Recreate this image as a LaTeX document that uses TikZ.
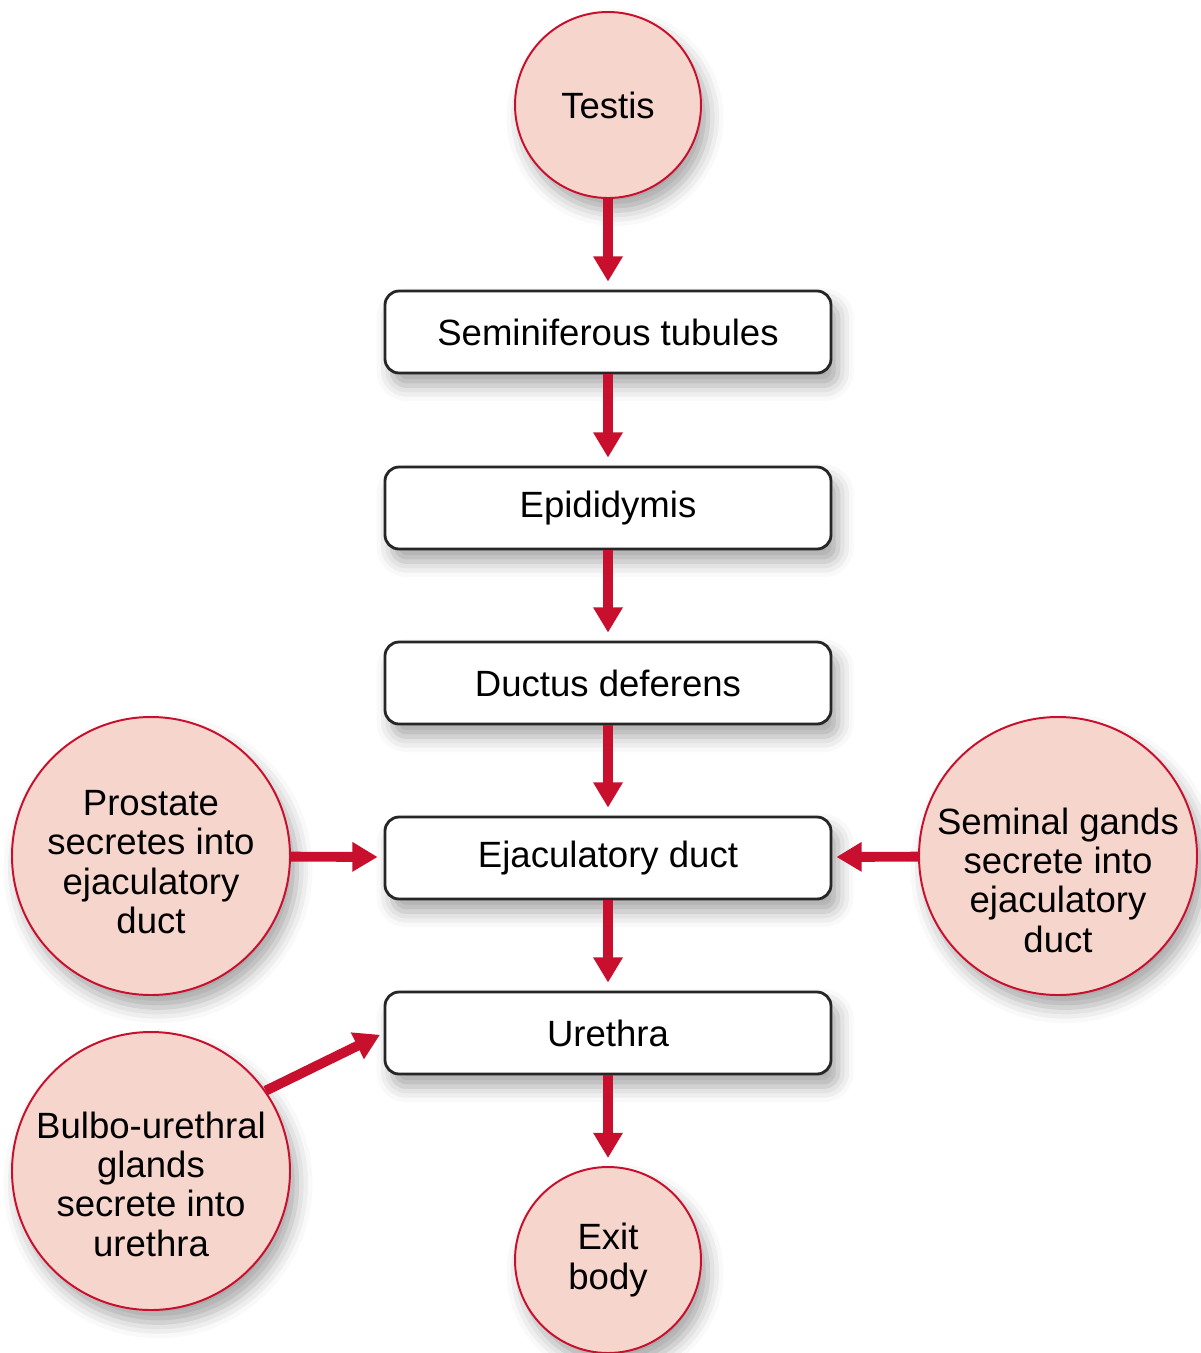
\documentclass[tikz,border=0pt]{standalone}
\usepackage{fontspec}
\setmainfont{Liberation Sans}
\usetikzlibrary{arrows.meta, shadows.blur}
\definecolor{cred}{HTML}{C8102E}
\definecolor{cpink}{HTML}{F6D6CC}
\definecolor{cdark}{HTML}{262626}
\tikzset{
  every picture/.style={font=\fontsize{26}{28}\selectfont},
  dropshadow/.style={blur shadow={shadow xshift=5pt, shadow yshift=-9pt, shadow blur radius=11pt, shadow opacity=35}},
  box/.style={draw=cdark, fill=white, rounded corners=10pt, line width=2pt, minimum width=11.15cm, minimum height=2.05cm, dropshadow},
  gland/.style={circle, draw=cred, fill=cpink, line width=1.4pt, align=center, inner sep=0pt, minimum size=#1, dropshadow},
  gland/.default=6.95cm,
  gtext/.style={align=center, inner sep=0pt},
  arrow/.style={-{Triangle[length=0.63cm, width=0.7cm]}, draw=cred, line width=7pt, shorten >=0.2cm},
}

\begin{document}
\begin{tikzpicture}
  \useasboundingbox (0,0) rectangle (30.025,-33.825);
  % main path
  \node[gland=4.65cm] (testis) at (15.2,-2.625) {Testis};
  \node[box] (tubules) at (15.2,-8.3) {Seminiferous tubules};
  \node[box] (epi) at (15.2,-12.7) {Epididymis};
  \node[box] (ductus) at (15.2,-17.075) {Ductus deferens};
  \node[box] (ejac) at (15.2,-21.45) {Ejaculatory duct};
  \node[box] (urethra) at (15.2,-25.825) {Urethra};
  \node[gland=4.65cm] (exit) at (15.2,-31.5) {Exit\\body};
  % glands, text sits a little low in the circle
  \node[gland] (prostate) at (3.775,-21.4) {};
  \node[gtext] (prostate-t) at ([yshift=-0.15cm]prostate.center) {Prostate\\secretes into\\ejaculatory\\duct};
  \node[gland] (seminal) at (26.45,-21.4) {};
  \node[gtext] (seminal-t) at ([yshift=-0.6cm]seminal.center) {Seminal gands\\secrete into\\ejaculatory\\duct};
  \node[gland] (bulbo) at (3.775,-29.275) {};
  \node[gtext] (bulbo-t) at ([yshift=-0.33cm]bulbo.center) {Bulbo-urethral\\glands\\secrete into\\urethra};
  % arrows
  \foreach \a/\b in {testis/tubules, tubules/epi, epi/ductus, ductus/ejac, ejac/urethra, urethra/exit}
    \draw[arrow] (\a) -- (\b);
  \draw[arrow, shorten >=0.15cm] (prostate) -- (ejac);
  \draw[arrow, shorten >=0.1cm] (seminal) -- (ejac);
  \draw[arrow, shorten >=0.1cm] (bulbo.35) -- (urethra.west);
\end{tikzpicture}
\end{document}
